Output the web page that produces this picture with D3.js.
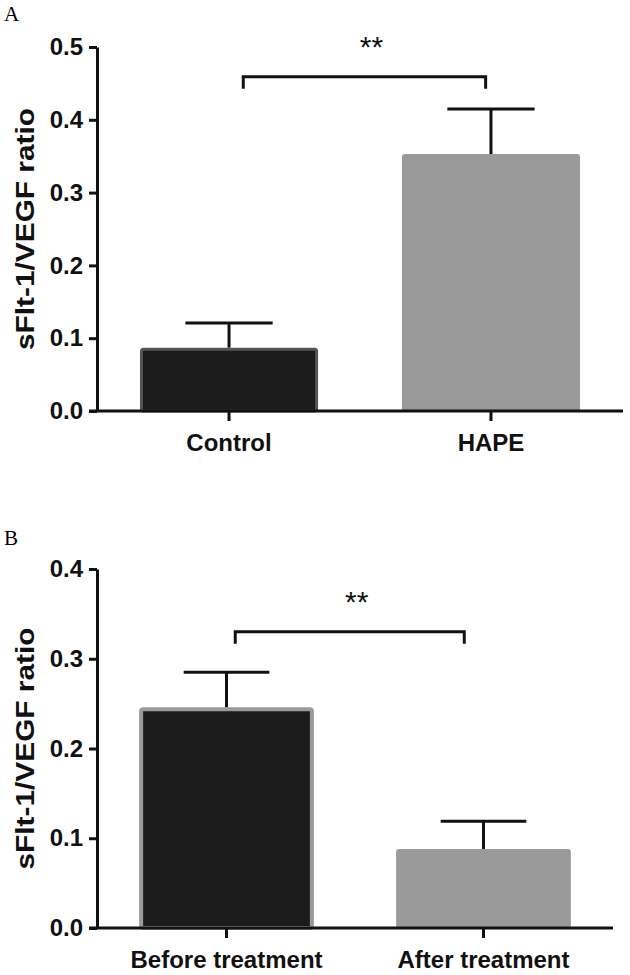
<!DOCTYPE html>
<html>
<head>
<meta charset="utf-8">
<script src="https://cdn.jsdelivr.net/npm/d3@7"></script>
<style>
  body { margin: 0; background: #fff; }
  svg { display: block; }
  .axis path, .axis line { stroke: #111; stroke-width: 3; }
  .axis text { font-family: "Liberation Sans", Arial, sans-serif; font-weight: bold; fill: #111; }
</style>
</head>
<body>
<div id="chart"></div>
<script>
// panel A values
var catsA = ["Control", "HAPE"],
    meansA = [0.087, 0.353],
    errsA = [0.034, 0.062],
    ticksA = [0, 0.1, 0.2, 0.3, 0.4, 0.5];

// panel B values
var catsB = ["Before treatment", "After treatment"],
    meansB = [0.246, 0.088],
    errsB = [0.039, 0.031],
    ticksB = [0, 0.1, 0.2, 0.3, 0.4];

var yTitle = "sFlt-1/VEGF ratio";

var svg = d3.select("#chart").append("svg")
    .attr("width", 630)
    .attr("height", 975);

// one panel of the figure, all pixel frames passed in here
function drawPanel(opt){
  var g = svg.append("g");

  var x = d3.scaleBand()
      .domain(opt.cats)
      .range([opt.left, opt.right])
      .paddingInner(0.32)
      .paddingOuter(0.164);

  var y = d3.scaleLinear()
      .domain([0, d3.max(opt.ticks)])
      .range([opt.bottom, opt.top]);

  // panel letter
  g.append("text")
      .attr("x", 4)
      .attr("y", opt.letterY)
      .style("font-family", "'Liberation Serif', 'Times New Roman', serif")
      .style("font-size", "21px")
      .text(opt.letter);

  // bars, stroke drawn inside the band
  opt.cats.forEach(function(c, i){
    var sw = opt.strokeW[i];
    g.append("rect")
        .attr("x", x(c) + sw / 2)
        .attr("y", y(opt.means[i]) + sw / 2)
        .attr("width", x.bandwidth() - sw)
        .attr("height", y(0) - y(opt.means[i]) - sw / 2)
        .attr("rx", 2)
        .attr("fill", opt.fills[i])
        .attr("stroke", opt.strokes[i])
        .attr("stroke-width", sw);

    // error bar up from the top of the bar
    var cx = x(c) + x.bandwidth() / 2,
        half = x.bandwidth() * 0.245;
    g.append("line")
        .attr("x1", cx).attr("x2", cx)
        .attr("y1", y(opt.means[i]))
        .attr("y2", y(opt.means[i] + opt.errs[i]))
        .attr("stroke", "#111").attr("stroke-width", 3);
    g.append("line")
        .attr("x1", cx - half).attr("x2", cx + half)
        .attr("y1", y(opt.means[i] + opt.errs[i]))
        .attr("y2", y(opt.means[i] + opt.errs[i]))
        .attr("stroke", "#111").attr("stroke-width", 3);
  });

  // y axis
  g.append("g")
      .attr("class", "axis")
      .attr("transform", "translate(" + opt.left + ",0)")
      .call(d3.axisLeft(y)
          .tickValues(opt.ticks)
          .tickFormat(d3.format(".1f"))
          .tickSize(8)
          .tickSizeOuter(0)
          .tickPadding(6))
      .call(a => a.selectAll("text").style("font-size", "24px"));

  // x axis, baseline runs a bit past the y axis like prism does
  var xa = g.append("g")
      .attr("class", "axis")
      .attr("transform", "translate(0," + opt.bottom + ")")
      .call(d3.axisBottom(x)
          .tickSize(10)
          .tickSizeOuter(0)
          .tickPadding(13));
  xa.select(".domain").remove();
  xa.selectAll("text").style("font-size", "24px");
  xa.append("line")
      .attr("x1", opt.left - 8)
      .attr("x2", opt.right)
      .attr("stroke", "#111")
      .attr("stroke-width", 3);

  // axis title
  g.append("text")
      .attr("transform", "translate(25," + (opt.top + opt.bottom) / 2 + ") rotate(-90)")
      .attr("text-anchor", "middle")
      .attr("dy", "0.35em")
      .attr("textLength", 242)
      .attr("lengthAdjust", "spacingAndGlyphs")
      .style("font-family", "'Liberation Sans', Arial, sans-serif")
      .style("font-weight", "bold")
      .style("font-size", "25px")
      .attr("fill", "#111")
      .text(yTitle);

  // significance bracket
  var bx1 = x(opt.cats[0]) + x.bandwidth() * opt.bracketFrac[0],
      bx2 = x(opt.cats[1]) + x.bandwidth() * opt.bracketFrac[1],
      by = y(opt.bracketAt);
  g.append("path")
      .attr("d", "M" + bx1 + "," + (by + 12) + "V" + by + "H" + bx2 + "V" + (by + 12))
      .attr("fill", "none")
      .attr("stroke", "#111")
      .attr("stroke-width", 3);

  g.append("text")
      .attr("x", (bx1 + bx2) / 2 + 7)
      .attr("y", by - 20)
      .attr("text-anchor", "middle")
      .style("font-family", "'Liberation Sans', Arial, sans-serif")
      .style("font-size", "30px")
      .attr("fill", "#111")
      .text("**");
}

drawPanel({
  letter: "A", letterY: 21,
  cats: catsA, means: meansA, errs: errsA, ticks: ticksA,
  left: 97, right: 623, top: 47, bottom: 411,
  fills: ["#1b1b1b", "#9a9a9a"],
  strokes: ["#555", "#9a9a9a"],
  strokeW: [3, 2],
  bracketAt: 0.459,
  bracketFrac: [0.58, 0.47]
});

drawPanel({
  letter: "B", letterY: 545,
  cats: catsB, means: meansB, errs: errsB, ticks: ticksB,
  left: 97, right: 613, top: 569, bottom: 928,
  fills: ["#1b1b1b", "#9a9a9a"],
  strokes: ["#9a9a9a", "#9a9a9a"],
  strokeW: [4, 2],
  bracketAt: 0.33,
  bracketFrac: [0.55, 0.39]
});
</script>
</body>
</html>
